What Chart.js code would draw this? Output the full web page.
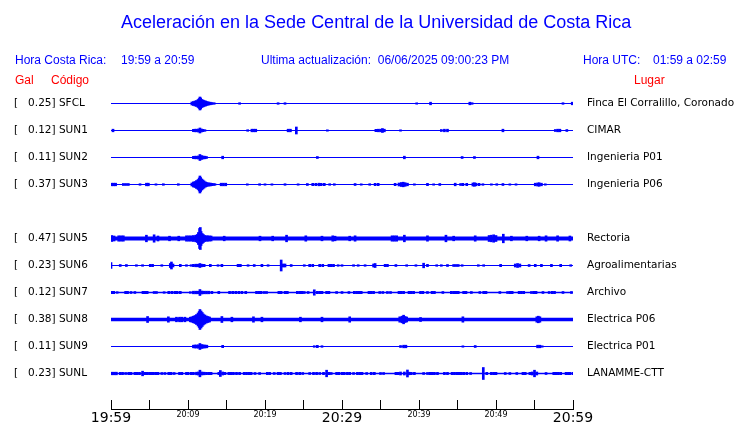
<!DOCTYPE html>
<html>
<head>
<meta charset="utf-8">
<script src="https://cdn.jsdelivr.net/npm/chart.js@4"></script>
<style>
body { margin: 0; background: #fff; }
#wrap { position: relative; width: 740px; height: 423px; }
canvas { position: absolute; left: 0; top: 0; }
.t { position: absolute; font-family: "Liberation Sans", Arial, sans-serif; font-size: 12px; line-height: 14px; white-space: pre; color: #0000ff; }
.red { color: #ff0000; }
#title { font-size: 18px; line-height: 20px; }
</style>
</head>
<body>
<div id="wrap">
  <canvas id="seis" width="740" height="423"></canvas>
  <div class="t" id="title" style="left:121px;top:12px">Aceleración en la Sede Central de la Universidad de Costa Rica</div>
  <div class="t" style="left:15px;top:53px">Hora Costa Rica:</div>
  <div class="t" style="left:121px;top:53px">19:59 a 20:59</div>
  <div class="t" style="left:261px;top:53px">Ultima actualización:  06/06/2025 09:00:23 PM</div>
  <div class="t" style="left:583px;top:53px">Hora UTC:</div>
  <div class="t" style="left:653px;top:53px">01:59 a 02:59</div>
  <div class="t red" style="left:15px;top:73px">Gal</div>
  <div class="t red" style="left:51px;top:73px">Código</div>
  <div class="t red" style="left:634px;top:73px">Lugar</div>
</div>
<script>
// rows (null = empty row, station SUN4 not shown)
const codes = ['SFCL', 'SUN1', 'SUN2', 'SUN3', null, 'SUN5', 'SUN6', 'SUN7', 'SUN8', 'SUN9', 'SUNL'];
const peakGal = [0.25, 0.12, 0.11, 0.37, null, 0.47, 0.23, 0.12, 0.38, 0.11, 0.23];
const places = ['Finca El Corralillo, Coronado', 'CIMAR', 'Ingenieria P01', 'Ingenieria P06', null,
  'Rectoria', 'Agroalimentarias', 'Archivo', 'Electrica P06', 'Electrica P01', 'LANAMME-CTT'];
// background noise level of each trace
const noise = [0, 0, 0, 0, null, 1.4, 0, 0.3, 1.2, 0, 0.3];
const tickLabels = ['19:59', '20:09', '20:19', '20:29', '20:39', '20:49', '20:59'];

// [minutes after 19:59, half amplitude]
const sfcl = [[10.5,1.5],[10.7,2],[10.9,2.5],[11.1,3],[11.3,4],[11.45,5],[11.55,6.5],[11.65,5.5],[11.8,4],[11.95,3.5],[12.1,3],[12.3,2.5],[12.5,2],[12.7,1.5],[12.9,1.3],[13.1,1],[13.4,0.8],[16.7,0.8],[21.7,0.8],[22.6,0.8],[39.7,0.7],[41.5,1.3],[46.6,1.3],[46.9,0.8],[58.7,0.8],[59.9,1.3]];
const sun1 = [[0.26,1.3],[10.7,1.2],[10.9,1.3],[11.1,1.3],[11.35,1.5],[11.55,2.5],[11.75,1.5],[11.95,1.2],[12.2,0.8],[17.75,0.8],[18.3,1.3],[18.55,1.3],[18.8,1.3],[23.0,1.3],[23.3,1.3],[24.07,3.5],[28.1,0.7],[34.4,1.2],[34.7,1.3],[35.0,1.3],[35.25,2],[35.5,1.3],[37.6,0.7],[42.9,1],[43.3,1.3],[43.7,1.3],[50.9,1.3],[57.7,1],[58.0,1.3],[58.3,1.3],[59.2,1]];
const sun2 = [[10.7,1.2],[10.9,1.3],[11.1,1.3],[11.35,1.5],[11.55,3],[11.75,2],[11.95,1.5],[12.2,1.3],[12.4,1],[14.5,1.3],[26.8,1],[38.1,1.3],[45.6,1],[47.2,1],[55.45,1.3]];
const sun3 = [[0.1,1.3],[0.35,1.3],[0.6,1.3],[1.6,1],[1.9,1],[2.25,1],[3.77,0.8],[4.6,1.3],[4.85,1.3],[5.84,0.7],[6.8,0.8],[8.74,0.8],
  [10.5,1.5],[10.7,2.5],[10.9,3],[11.1,4],[11.3,5],[11.45,6.5],[11.55,8.5],[11.65,7],[11.8,5.5],[11.95,4.5],[12.1,3.5],[12.3,2.5],[12.5,2],[12.7,1.5],[12.9,1.5],[13.1,1.2],[13.3,1],[13.5,0.8],
  [14.3,1.3],[14.6,1.3],[14.9,1.3],[17.7,0.7],[19.3,0.8],[20.0,0.7],[20.9,0.7],[22.6,0.8],[24.3,0.7],[25.5,1],[26.2,1.2],[26.6,1.2],[27.0,1.3],[27.3,1.2],[27.7,1.2],[28.4,0.8],[29.0,0.8],
  [31.7,1],[32.5,0.7],[33.6,0.8],[34.3,1.2],[34.7,1.2],[36.9,1.2],[37.4,1.5],[37.7,2],[37.95,2.3],[38.2,1.8],[38.5,1.3],[39.4,0.7],[41.1,1.2],[41.9,0.7],[42.7,1],[44.7,1.3],[45.4,1],[45.7,1.2],[46.2,1.2],[47.0,1.5],[47.2,1.8],[47.4,1.3],[47.8,1.2],[48.3,0.8],[49.4,0.7],[50.1,0.8],[50.9,1],[51.8,0.7],[52.6,0.7],[55.1,1.3],[55.4,1.5],[55.6,1.8],[55.9,1.3],[56.4,0.7]];
const sun5 = [[0.1,3],[0.4,2.5],[1.0,2.7],[1.3,2.7],[1.6,2.7],[4.6,3.3],[5.6,3.7],[6.1,2.5],[7.6,2.3],[8.8,2.3],[9.8,2.7],[10.1,2.7],[10.4,2.7],[10.7,3],[11.0,3.3],[11.2,4],[11.35,6],[11.5,10],[11.6,11],[11.7,7],[11.85,5],[12.0,4],[12.2,3],[12.4,2.7],[12.6,2.7],[12.8,2.5],[13.0,2.5],[14.7,2.3],[19.35,2.3],[21.0,2.3],[22.8,3.3],[25.3,2.7],[27.4,2.3],[28.8,2.7],[29.1,2.3],
  [31.0,2.3],[31.7,2.7],[36.5,2.7],[36.8,2.7],[37.1,2.7],[38.1,3.3],[41.1,2.7],[43.5,3.3],[44.5,2.3],[47.3,2.7],[49.1,3],[49.4,3.3],[49.7,3.7],[50.0,3],[50.95,4.3],[52.0,2.3],[54.0,2.3],[55.6,2.3],[56.5,2.7],[58.0,2.7],[59.6,2.5]];
const sun6 = [[0.0,3],[1.2,1],[2.0,1],[3.3,0.8],[4.1,0.8],[5.1,1.2],[5.4,1.2],[6.6,0.8],[7.7,2],[7.85,3.5],[8.05,1.5],[9.0,1.2],[9.8,0.8],[10.4,0.8],[10.7,1.2],[11.0,1.3],[11.3,1.3],[11.55,2],[11.8,1.3],[12.1,1.2],[12.9,1.2],[13.9,0.8],[14.4,1.2],[16.5,1.2],[16.8,1.2],[17.8,0.8],[18.6,1],[19.6,1.2],[20.4,0.8],[22.1,5.5],[22.35,1.5],[22.6,1.5],[23.4,1],[25.1,0.8],[25.8,1.2],[26.2,1.2],[27.1,1.2],[27.5,1.2],[28.3,1.2],[28.6,1.2],[28.9,1.2],[29.5,0.8],
  [30.0,0.8],[31.5,0.8],[32.1,0.8],[33.0,0.8],[34.1,1.5],[34.3,2],[35.6,1.2],[35.9,1.2],[37.0,1],[38.4,0.8],[39.6,0.8],[40.6,2.3],[41.1,1.2],[42.3,0.8],[42.9,0.8],[43.7,1],[44.5,1],[44.8,1],[45.1,1],[45.6,0.8],[47.7,0.8],[48.4,0.8],[50.6,1.2],[52.5,1.5],[52.8,2],[53.1,1.5],[54.3,1],[55.1,1.2],[55.9,1.2],[57.2,1.2],[58.4,1.2],[59.7,0.8]];
const sun7 = [[0.1,1.2],[0.35,1.2],[0.8,0.8],[1.9,1.2],[2.15,1.2],[2.6,1],[3.1,1],[4.15,1.2],[4.4,1.2],[4.7,1.2],[5.6,1],[5.9,1],[6.9,0.8],[7.5,1.2],[7.9,1.2],[8.3,1.2],[8.6,1.2],[9.0,1.2],[10.3,0.8],[10.7,1.3],[11.0,1.3],[11.3,1.3],[11.55,3],[11.8,1.5],[12.1,1.3],[12.4,1.3],[12.7,1.3],[13.1,1.2],[14.0,1.2],[15.4,1.2],[15.8,1.2],[16.2,1.2],[16.6,1.2],[17.0,1.2],[17.5,1.2],[18.9,1.2],[19.2,1.2],[19.5,1.2],[19.9,1],[20.2,1],[21.8,1.2],[22.1,1.2],[22.6,1.2],[22.9,1.2],[24.2,1.2],[24.5,1.2],[24.8,1.2],[25.1,1],[25.6,1],[26.4,2.7],[26.8,1.2],[27.1,1.2],[27.4,1.2],[28.0,1.2],[28.3,1.2],[29.3,1],[30.0,1],
  [30.9,1],[31.6,1.2],[31.9,1.2],[32.2,1.2],[32.5,1.2],[33.5,1.2],[33.8,1.2],[34.1,1.2],[34.9,1],[35.3,1],[35.9,1],[36.3,1],[37.4,1.2],[37.7,1.2],[38.0,1.2],[38.7,1.2],[39.0,1.2],[39.3,1.2],[40.2,1.2],[40.5,1.2],[41.1,1],[41.7,1.2],[42.0,1.2],[43.1,1],[44.2,1.2],[44.5,1.2],[44.8,1.2],[45.1,1.2],[45.8,1.2],[46.1,1.2],[46.8,1],[47.9,1],[48.4,1.2],[48.7,1.2],[50.5,1],[51.5,1],[51.8,1.2],[52.1,1.2],[53.0,1.2],[53.3,1.2],[53.6,1.2],[54.6,1],[54.9,1.2],[55.2,1.2],[56.1,1],[56.9,1],[57.3,1.2],[57.6,1.2],[58.7,1],[59.8,1]];
const sun8 = [[4.75,3],[7.45,2.7],[8.5,2.3],[8.9,2.3],[9.2,2.3],[9.6,2.3],[10.3,2.3],[10.5,2.7],[10.7,3.3],[10.9,4],[11.1,5],[11.3,6.5],[11.45,8],[11.55,10],[11.7,8.5],[11.85,7],[12.0,5.5],[12.2,4.5],[12.4,3.5],[12.6,3],[12.8,2.5],[14.4,3],[15.7,2.3],[18.5,2.7],[19.6,2.3],[24.6,2.3],[27.4,2.3],
  [31.0,2.7],[37.5,2.7],[37.8,3.3],[38.0,4.3],[38.2,3],[38.4,2.5],[40.2,2],[45.7,2.7],[55.3,2.7],[55.5,3.3],[55.7,2.7]];
const sun9 = [[10.7,1.3],[10.9,1.5],[11.1,1.5],[11.35,1.7],[11.55,3],[11.75,2],[11.95,1.7],[12.2,1.5],[12.45,1.3],[14.5,1.2],[26.4,0.8],[26.8,1.2],[27.4,0.8],[37.6,1],[38.0,1.3],[38.3,1.3],[45.7,0.7],[47.3,1],[55.4,1.3],[55.7,1.3],[56.0,0.7]];
const sunl = [[0.1,1.3],[0.4,1.3],[0.7,1.3],[1.2,1.2],[1.5,1.2],[1.9,1],[2.3,1.2],[2.6,1.2],[3.1,1.2],[3.4,1.2],[3.7,1.2],[4.1,2.3],[4.4,1.2],[4.7,1.2],[5.0,1.2],[5.2,1.2],[5.5,1.2],[5.8,1.2],[6.1,1.2],[6.6,1],[7.0,1],[7.5,1.2],[7.8,1.2],[8.2,1],[8.9,1.2],[9.2,1.2],[9.8,1.2],[10.0,1.2],[10.4,1.2],[10.7,1.2],[11.1,1.3],[11.35,1.5],[11.55,3.3],[11.8,1.5],[12.1,1.3],[12.4,1.2],[12.7,1.2],[13.0,1.2],[14.0,1.2],[14.2,3],[14.5,1.5],[14.8,1.2],[15.3,1.2],[15.6,1.2],[15.9,1.2],[16.3,1.2],[16.7,1.2],[17.3,1.2],[17.6,1.2],[17.9,1.2],[18.2,1.2],[18.7,1],[19.3,1],[20.3,1.2],[20.6,1.2],[21.2,1],[21.7,1.2],[22.0,1.2],[22.6,1],[23.0,1.2],[23.4,1.2],[24.1,1.2],[24.5,1.2],[24.9,1],[25.8,1],[26.3,1.2],[26.7,1.2],[27.1,1],[27.6,1.2],[28.0,3.3],[28.3,1.2],[28.6,1],[29.3,1.2],[29.6,1.2],
  [30.0,1.2],[30.3,1.2],[30.7,1.2],[31.0,1.2],[31.5,1],[32.0,1.2],[32.3,1.2],[32.6,1.2],[33.2,1],[33.8,1.2],[34.2,1.2],[35.0,1],[35.4,1],[37.0,1.2],[37.3,1.2],[37.6,1.5],[38.1,1.5],[38.5,3.5],[38.7,1.3],[39.0,1.2],[39.4,1.2],[40.6,1],[41.1,1],[41.4,1.2],[41.7,1.2],[42.0,1.2],[42.4,1.2],[43.3,1.2],[43.7,1.2],[44.3,1.2],[44.6,1.2],[44.9,1.2],[45.2,1.2],[45.5,1.2],[45.8,1.2],[46.2,1.2],[46.7,1],[48.35,6],[48.8,1.2],[49.4,1.2],[49.7,1.2],[50.0,1.2],[51.2,1],[51.8,1],[52.7,1],[53.5,1.2],[53.8,1.2],[54.4,1.2],[54.7,1.5],[55.0,3.3],[55.3,1.5],[56.5,1],[57.5,1.2],[57.8,1.2],[58.1,1.2],[58.4,1.2],[59.1,1.2],[59.4,1.2],[59.6,1.2],[60,1.2]];

const traces = [sfcl, sun1, sun2, sun3, null, sun5, sun6, sun7, sun8, sun9, sunl];

const BLUE = '#0000ff';
const ROW = 27; // amplitude units between two traces

const datasets = [];
codes.forEach((code, i) => {
  if (!code) return;
  const base = i * ROW;
  datasets.push({
    type: 'line',
    data: [{ x: 0, y: base }, { x: 60, y: base }],
    borderColor: BLUE,
    borderWidth: 1 + 2 * noise[i],
    borderCapStyle: 'butt',
    pointRadius: 0
  });
  datasets.push({
    type: 'bar',
    data: traces[i].map(([t, a]) => ({ x: t, y: [base - a, base + a] })),
    backgroundColor: BLUE,
    borderWidth: 0,
    barThickness: 2,
    grouped: false
  });
});

function rowOf(v) { return Math.round(v / ROW); }
function rowTicks(scale) {
  scale.ticks = codes.map((c, i) => c ? { value: i * ROW } : null).filter(Boolean);
}

const axisLine = {
  id: 'axisLine',
  afterDraw(chart) {
    const xs = chart.scales.x, ctx = chart.ctx;
    const y = Math.round(chart.chartArea.bottom + xs.options.grid.tickLength) + 0.5;
    ctx.save();
    ctx.strokeStyle = '#000';
    ctx.lineWidth = 1;
    ctx.beginPath();
    ctx.moveTo(xs.left, y);
    ctx.lineTo(xs.right + 1, y);
    ctx.stroke();
    ctx.restore();
  }
};

new Chart(document.getElementById('seis'), {
  type: 'bar',
  data: { datasets },
  plugins: [axisLine],
  options: {
    responsive: false,
    animation: false,
    devicePixelRatio: 1,
    layout: { padding: { top: 90, left: 14, right: 0, bottom: 0 } },
    plugins: { legend: { display: false }, tooltip: { enabled: false } },
    scales: {
      x: {
        type: 'linear', min: 0, max: 60, offset: false,
        grid: { drawOnChartArea: false, drawTicks: true, tickLength: 9, color: '#000', offset: false },
        border: { display: false },
        ticks: {
          stepSize: 5, autoSkip: false, maxRotation: 0, padding: 1, color: '#000',
          callback: v => v % 10 === 0 ? tickLabels[v / 10] : '',
          font: ctx => ({ family: 'DejaVu Sans', size: (ctx.tick && ctx.tick.value % 30 === 0) ? 14 : 8 })
        },
        afterFit: s => { s.height = 23; }
      },
      y: {
        type: 'linear', position: 'left', reverse: true, min: -13.5, max: 296.5,
        grid: { display: false, drawTicks: false },
        border: { display: false },
        afterBuildTicks: rowTicks,
        ticks: {
          autoSkip: false, crossAlign: 'far', color: '#000', padding: 0,
          font: { family: 'DejaVu Sans', size: 10.5 },
          callback: v => '[' + peakGal[rowOf(v)].toFixed(2).padStart(7) + '] ' + codes[rowOf(v)]
        },
        afterFit: s => { s.width = 97; }
      },
      y2: {
        type: 'linear', position: 'right', reverse: true, min: -13.5, max: 296.5,
        grid: { display: false, drawTicks: false },
        border: { display: false },
        afterBuildTicks: rowTicks,
        ticks: {
          autoSkip: false, crossAlign: 'near', color: '#000', padding: 14,
          font: { family: 'DejaVu Sans', size: 10.5 },
          callback: v => places[rowOf(v)]
        },
        afterFit: s => { s.width = 167; }
      }
    }
  }
});
</script>
</body>
</html>
